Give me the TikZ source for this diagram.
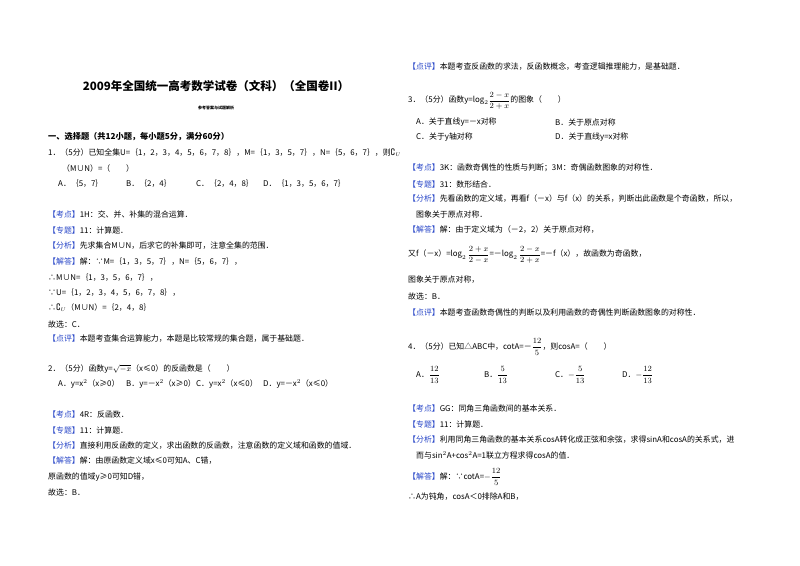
\documentclass[tikz,border=0pt]{standalone}
\usepackage{fontspec}
\setmainfont{Noto Sans CJK SC}
\usepackage{amsmath,amssymb}
\definecolor{kblue}{RGB}{40,70,200}
\newcommand\kb[1]{\textcolor{kblue}{【#1】}}
\newcommand\CU{$\complement_{\scriptscriptstyle U}$}
\begin{document}
\begin{tikzpicture}[x=1pt,y=-1pt,
  t/.style={anchor=west,inner sep=0pt,font=\fontsize{7.9}{9}\selectfont},
  tb/.style={t,font=\fontsize{8.2}{9}\selectfont\bfseries}]
\useasboundingbox (0,0) rectangle (800,565);
\fill[white] (0,0) rectangle (800,565);
% left column
\node[inner sep=0,font=\fontsize{11.5}{12}\selectfont\bfseries] (title) at (216,86) {2009年全国统一高考数学试卷（文科）（全国卷II）};
\node[inner sep=0,font=\fontsize{4}{5}\selectfont\bfseries] (sub) at (216,108) {参考答案与试题解析};
\node[tb] (s1) at (48,137) {一、选择题（共12小题，每小题5分，满分60分）};
\node[t] (q1) at (48,153) {1．（5分）已知全集U=｛1，2，3，4，5，6，7，8｝，M=｛1，3，5，7｝，N=｛5，6，7｝，则\CU};
\node[t] (q1b) at (62,168) {（M∪N）=（　　）};
\node[t] (q1A) at (58,184) {A．｛5，7｝};
\node[t] (q1B) at (126,184) {B．｛2，4｝};
\node[t] (q1C) at (196,184) {C．｛2，4，8｝};
\node[t] (q1D) at (263,184) {D．｛1，3，5，6，7｝};
\node[t] (k1) at (48,214) {\kb{考点}1H：交、并、补集的混合运算．};
\node[t] (z1) at (48,230) {\kb{专题}11：计算题．};
\node[t] (f1) at (48,246) {\kb{分析}先求集合M∪N，后求它的补集即可，注意全集的范围．};
\node[t] (j1) at (48,262) {\kb{解答}解：∵M=｛1，3，5，7｝，N=｛5，6，7｝，};
\node[t] (j1b) at (48,278) {∴M∪N=｛1，3，5，6，7｝，};
\node[t] (j1c) at (48,293) {∵U=｛1，2，3，4，5，6，7，8｝，};
\node[t] (j1d) at (48,308) {∴\CU（M∪N）=｛2，4，8｝};
\node[t] (g1) at (48,324) {故选：C．};
\node[t] (p1) at (48,339) {\kb{点评}本题考查集合运算能力，本题是比较常规的集合题，属于基础题．};
\node[t] (q2) at (48,369) {2．（5分）函数y=$\sqrt{-x}$（x≤0）的反函数是（　　）};
\node[t] (q2A) at (58,384) {A．y=x$^2$（x≥0）};
\node[t] (q2B) at (126,384) {B．y=－x$^2$（x≥0）};
\node[t] (q2C) at (196,384) {C．y=x$^2$（x≤0）};
\node[t] (q2D) at (263,384) {D．y=－x$^2$（x≤0）};
\node[t] (k2) at (48,414) {\kb{考点}4R：反函数．};
\node[t] (z2) at (48,430) {\kb{专题}11：计算题．};
\node[t] (f2) at (48,446) {\kb{分析}直接利用反函数的定义，求出函数的反函数，注意函数的定义域和函数的值域．};
\node[t] (j2) at (48,461) {\kb{解答}解：由原函数定义域x≤0可知A、C错，};
\node[t] (j2b) at (48,477) {原函数的值域y≥0可知D错，};
\node[t] (g2) at (48,492) {故选：B．};
% right column
\node[t] (p2) at (408,67) {\kb{点评}本题考查反函数的求法，反函数概念，考查逻辑推理能力，是基础题．};
\node[t] (q3) at (408,101) {3．（5分）函数y=log$_2\dfrac{2-x}{2+x}$的图象（　　）};
\node[t] (q3A) at (416,122) {A．关于直线y=－x对称};
\node[t] (q3B) at (555,122) {B．关于原点对称};
\node[t] (q3C) at (416,137) {C．关于y轴对称};
\node[t] (q3D) at (555,137) {D．关于直线y=x对称};
\node[t] (k3) at (408,168) {\kb{考点}3K：函数奇偶性的性质与判断；3M：奇偶函数图象的对称性．};
\node[t] (z3) at (408,184) {\kb{专题}31：数形结合．};
\node[t] (f3) at (408,199) {\kb{分析}先看函数的定义域，再看f（－x）与f（x）的关系，判断出此函数是个奇函数，所以，};
\node[t] (f3b) at (416,214) {图象关于原点对称．};
\node[t] (j3) at (408,230) {\kb{解答}解：由于定义域为（－2，2）关于原点对称，};
\node[t] (j3b) at (408,255) {又f（－x）=$\log_{2}\dfrac{2+x}{2-x}$=－$\log_{2}\dfrac{2-x}{2+x}$=－f（x），故函数为奇函数，};
\node[t] (j3c) at (408,280) {图象关于原点对称，};
\node[t] (g3) at (408,296) {故选：B．};
\node[t] (p3) at (408,312) {\kb{点评}本题考查函数奇偶性的判断以及利用函数的奇偶性判断函数图象的对称性．};
\node[t] (q4) at (408,347) {4．（5分）已知△ABC中，cotA=－$\dfrac{12}{5}$，则cosA=（　　）};
\node[t] (q4A) at (416,375) {A．$\dfrac{12}{13}$};
\node[t] (q4B) at (484,375) {B．$\dfrac{5}{13}$};
\node[t] (q4C) at (555,375) {C．$-\dfrac{5}{13}$};
\node[t] (q4D) at (622,375) {D．$-\dfrac{12}{13}$};
\node[t] (k4) at (408,408) {\kb{考点}GG：同角三角函数间的基本关系．};
\node[t] (z4) at (408,424) {\kb{专题}11：计算题．};
\node[t] (f4) at (408,440) {\kb{分析}利用同角三角函数的基本关系cosA转化成正弦和余弦，求得sinA和cosA的关系式，进};
\node[t] (f4b) at (416,455) {而与sin$^2$A+cos$^2$A=1联立方程求得cosA的值．};
\node[t] (j4) at (408,477) {\kb{解答}解：∵cotA=$-\dfrac{12}{5}$};
\node[t] (j4b) at (408,497) {∴A为钝角，cosA＜0排除A和B，};
\end{tikzpicture}
\end{document}
